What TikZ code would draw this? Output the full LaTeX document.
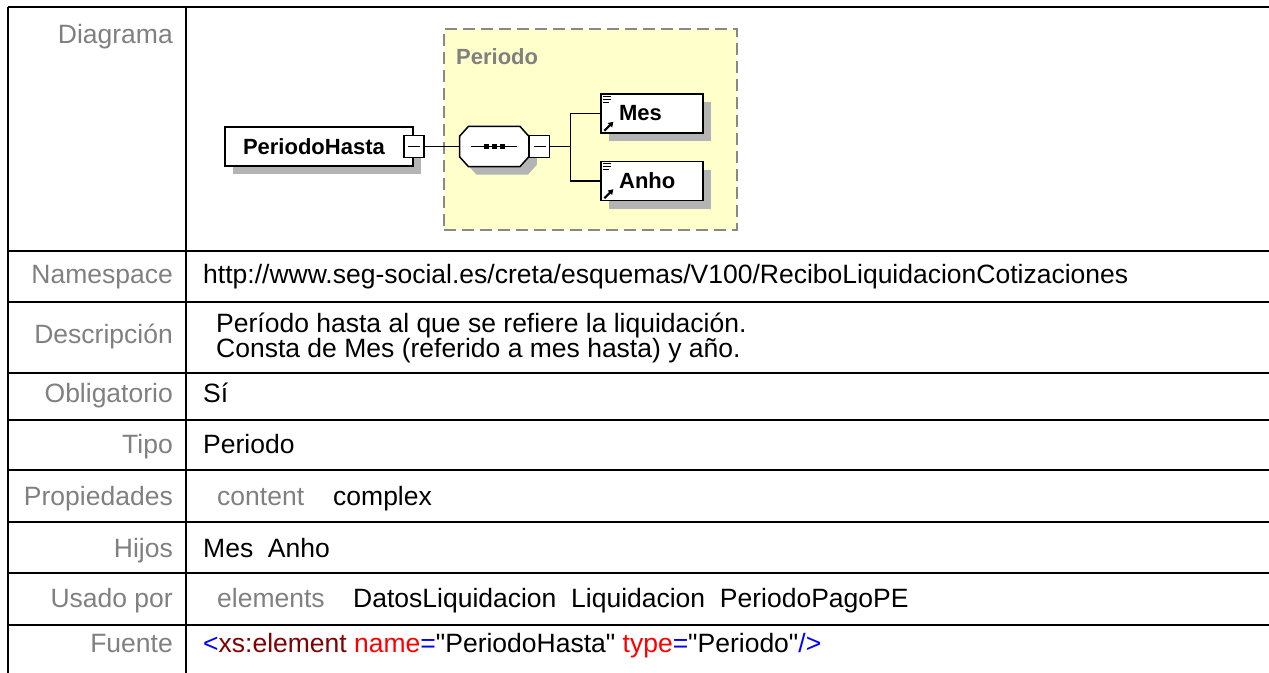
\documentclass[tikz,border=0pt]{standalone}
\usepackage{fontspec}
\setmainfont{Liberation Sans}
\newfontfamily\xmlfont{Liberation Sans}
\usetikzlibrary{positioning,shadows,arrows.meta}
\definecolor{lblgray}{RGB}{128,128,128}
\definecolor{typfill}{RGB}{255,255,204}
\definecolor{typline}{RGB}{136,136,136}
\definecolor{shadegray}{RGB}{180,180,180}
\definecolor{xmlblue}{RGB}{0,0,255}
\definecolor{xmlbrown}{RGB}{128,0,0}
\definecolor{xmlred}{RGB}{255,0,0}
\newcommand{\xmlq}{{\xmlfont"}}
\tikzset{
    %table cells
    grid/.style={line width=2pt},
    lbl/.style={
      anchor=base east, inner sep=0pt,
      text=lblgray,
      font=\fontsize{26.5}{30}\selectfont},
    val/.style={
      anchor=base west, inner sep=0pt,
      font=\fontsize{26.5}{30}\selectfont},
    %diagram parts
    elem/.style={
      rectangle,
      draw=black, line width=1.5pt,
      fill=white,
      text width=#1, inner xsep=18pt,
      align=left,
      minimum height=39pt,
      font=\fontsize{22}{26}\selectfont\bfseries,
      general shadow={fill=shadegray, shadow xshift=8pt, shadow yshift=-8pt}},
    minbox/.style={
      rectangle,
      draw=black, line width=1.5pt,
      fill=white,
      minimum width=20pt, minimum height=22pt,
      inner sep=0pt},
    seqbox/.style={
      rectangle,
      minimum width=69pt, minimum height=40pt,
      inner sep=0pt},
    octo/.style={
      draw=black, line width=1.5pt,
      fill=white,
      general shadow={fill=shadegray, shadow xshift=8pt, shadow yshift=-8pt}},
    typbox/.style={
      rectangle,
      draw=typline, line width=2pt,
      dash pattern=on 12pt off 6pt,
      fill=typfill,
      minimum width=293pt, minimum height=201pt},
    link/.style={draw=black, line width=1.5pt},
}
\begin{document}
\begin{tikzpicture}[x=1pt, y=-1pt]
    \useasboundingbox (0,0) rectangle (1269,672);

    % table grid
    \draw[grid] (8,7) -- (1270,7);
    \draw[grid] (8,7) -- (8,673);
    \draw[grid] (186,7) -- (186,673);
    \draw[grid] (8,251) -- (1270,251);
    \draw[grid] (8,302) -- (1270,302);
    \draw[grid] (8,373) -- (1270,373);
    \draw[grid] (8,420) -- (1270,420);
    \draw[grid] (8,470) -- (1270,470);
    \draw[grid] (8,522) -- (1270,522);
    \draw[grid] (8,573) -- (1270,573);
    \draw[grid] (8,625) -- (1270,625);

    % left column
    \node (lDiag) [lbl] at (173,43) {Diagrama};
    \node (lNs)   [lbl] at (173,283) {Namespace};
    \node (lDesc) [lbl] at (173,343) {Descripción};
    \node (lObl)  [lbl] at (173,402) {Obligatorio};
    \node (lTipo) [lbl] at (173,453) {Tipo};
    \node (lProp) [lbl] at (173,505) {Propiedades};
    \node (lHij)  [lbl] at (173,557) {Hijos};
    \node (lUsa)  [lbl] at (173,607) {Usado por};
    \node (lFue)  [lbl] at (173,652) {Fuente};

    % right column
    \node (vNs) [val] at (203,283)
          {http://www.seg-social.es/creta/esquemas/V100/ReciboLiquidacionCotizaciones};
    \node (vDesc) [val] at (216,332)
          {Período hasta al que se refiere la liquidación.};
    \node (vDesc2) [val] at (216,357)
          {Consta de Mes (referido a mes hasta) y año.};
    \node (vObl) [val] at (203,402) {Sí};
    \node (vTipo) [val] at (203,453) {Periodo};
    \node (vProp) [val, text=lblgray] at (217,505) {content};
    \node (vCplx) [val] at (333,505) {complex};
    \node (vHij) [val] at (203,557) {Mes~ Anho};
    \node (vUsa) [val, text=lblgray] at (217,607) {elements};
    \node (vUsers) [val] at (353,607) {DatosLiquidacion~ Liquidacion~ PeriodoPagoPE};
    \node (vFue) [val] at (203,652)
          {\textcolor{xmlblue}{<}\textcolor{xmlbrown}{xs:element} \textcolor{xmlred}{name}\textcolor{xmlblue}{=}\xmlq PeriodoHasta\xmlq\ \textcolor{xmlred}{type}\textcolor{xmlblue}{=}\xmlq Periodo\xmlq\textcolor{xmlblue}{/>}};

    % diagram
    \node (grp) [typbox] at (590.5,129.5) {};
    \node (grpname) [anchor=north west, inner sep=0pt, text=lblgray,
          font=\fontsize{22}{26}\selectfont\bfseries]
          at ([shift={(13,20)}]grp.north west) {Periodo};

    \node (root) [elem=152pt] at (319,146.5) {PeriodoHasta};
    \node (m1) [minbox] at (root.east) {};
    \node (seq) [seqbox, right=35pt of m1] {};
    \path[octo] ([xshift=9pt]seq.north west) -- ([xshift=-9pt]seq.north east)
          -- ([yshift=-10pt]seq.north east) -- ([yshift=10pt]seq.south east)
          -- ([xshift=-9pt]seq.south east) -- ([xshift=9pt]seq.south west)
          -- ([yshift=10pt]seq.south west) -- ([yshift=-10pt]seq.north west) -- cycle;
    \node (m2) [minbox, anchor=west] at (seq.east) {};
    \coordinate (fork) at ([xshift=20pt]m2.east);
    \node (mes) [elem=66pt, anchor=west] at ([shift={(30,-33)}]fork) {Mes};
    \node (anho) [elem=66pt, below=27pt of mes] {Anho};

    \draw[link] (m1) -- (seq);
    \draw[link] (m2) -- (fork);
    \draw[link] (fork) |- (mes);
    \draw[link] (fork) |- (anho);

    % minus signs
    \draw[line width=1.2pt] ([xshift=-6pt]m1.center) -- ([xshift=6pt]m1.center);
    \draw[line width=1.2pt] ([xshift=-6pt]m2.center) -- ([xshift=6pt]m2.center);

    % sequence symbol
    \draw[line width=1.2pt] ([xshift=-23pt]seq.center) -- ([xshift=23pt]seq.center);
    \fill ([xshift=-8pt]seq.center) +(-2.5,-2.5) rectangle +(2.5,2.5);
    \fill (seq.center) +(-2.5,-2.5) rectangle +(2.5,2.5);
    \fill ([xshift=8pt]seq.center) +(-2.5,-2.5) rectangle +(2.5,2.5);

    % simple type marks
    \draw[line width=1pt] ([shift={(3,3)}]mes.north west) -- +(8,0);
    \draw[line width=1pt] ([shift={(3,6)}]mes.north west) -- +(8,0);
    \draw[line width=1pt] ([shift={(3,9)}]mes.north west) -- +(6,0);
    \draw[line width=2pt, -{Triangle[length=5pt,width=6pt]}]
          ([shift={(4,-3)}]mes.south west) -- +(9,-9);
    \draw[line width=1pt] ([shift={(3,3)}]anho.north west) -- +(8,0);
    \draw[line width=1pt] ([shift={(3,6)}]anho.north west) -- +(8,0);
    \draw[line width=1pt] ([shift={(3,9)}]anho.north west) -- +(6,0);
    \draw[line width=2pt, -{Triangle[length=5pt,width=6pt]}]
          ([shift={(4,-3)}]anho.south west) -- +(9,-9);
\end{tikzpicture}
\end{document}
